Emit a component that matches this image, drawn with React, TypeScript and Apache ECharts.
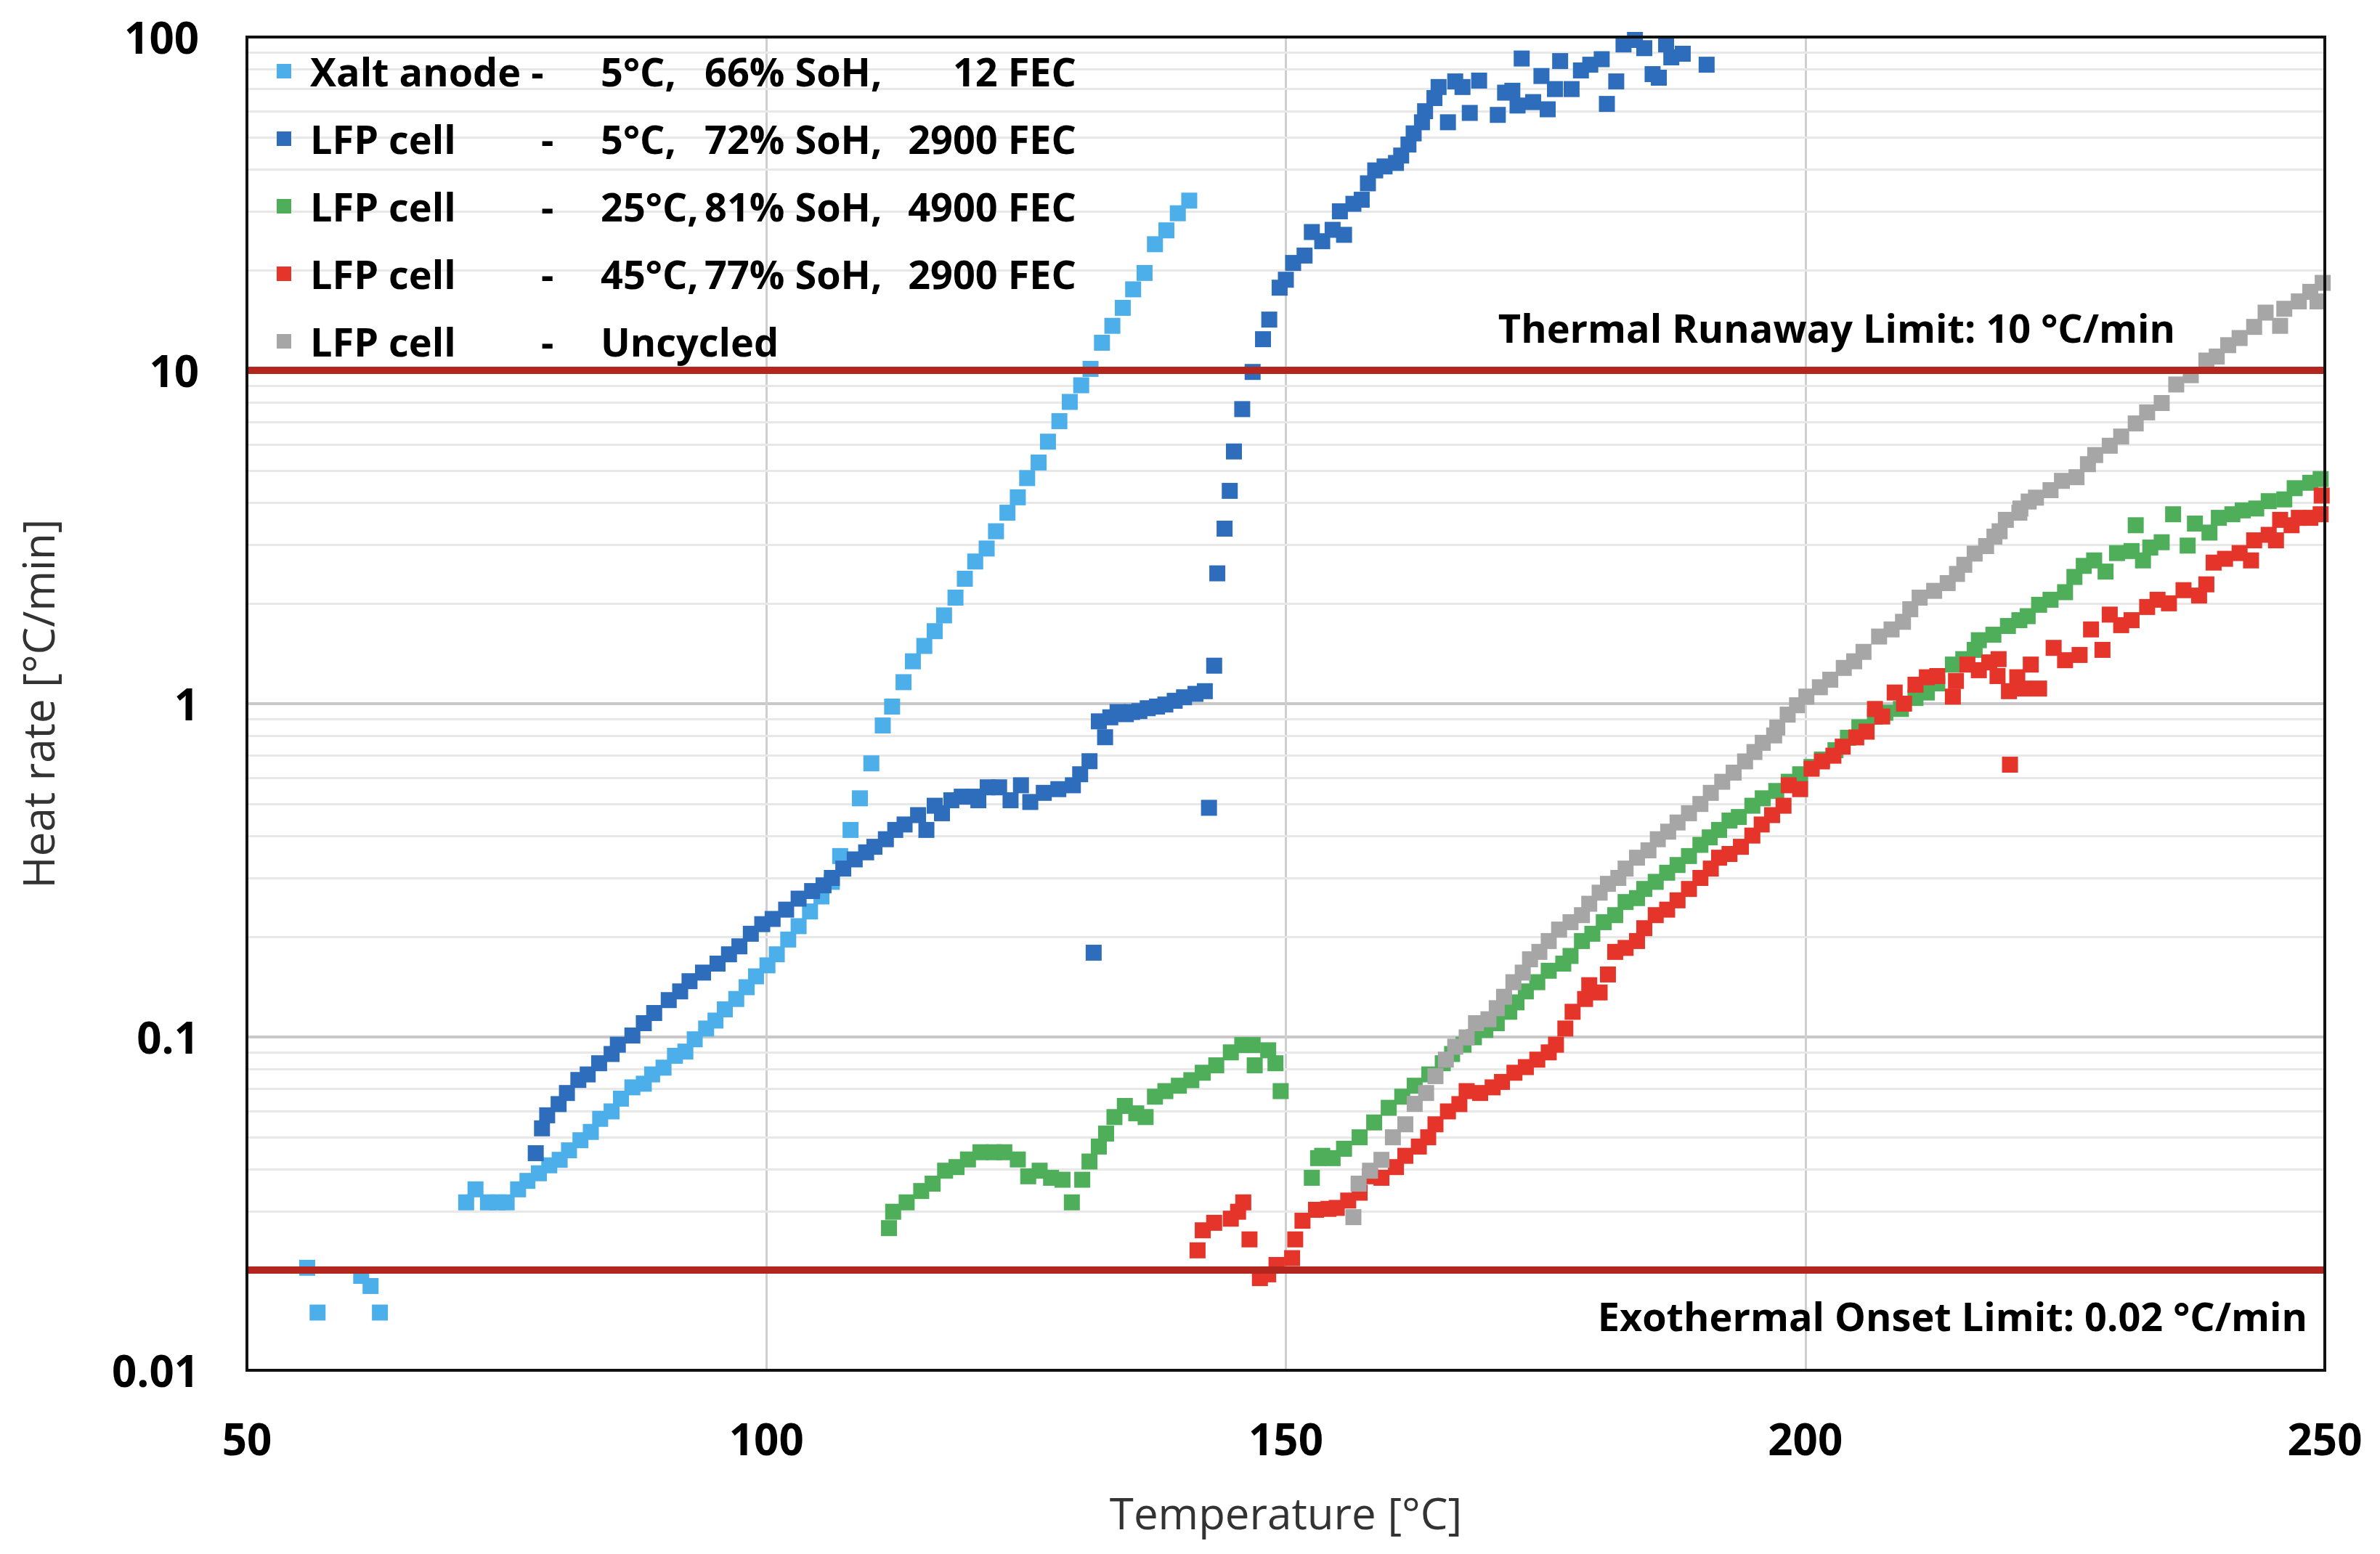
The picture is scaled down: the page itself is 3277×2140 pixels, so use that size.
import React, { useEffect, useRef } from "react";
import * as echarts from "echarts";

// ---------- data (temperature °C, heat rate °C/min) ----------
const xaltData: [number, number][] = [
  [55.8, 0.0203], [56.8, 0.0149], [61.0, 0.0192], [61.9, 0.0179], [62.8, 0.0149],
  [71.1, 0.0319], [72.0, 0.0349], [73.2, 0.0319], [74.1, 0.0319], [75.0, 0.0319], [76.1, 0.0349],
  [77.0, 0.037], [78.1, 0.039], [79.1, 0.0412], [80.1, 0.0428], [81.0, 0.0457], [82.1, 0.049],
  [83.1, 0.0519], [84.0, 0.0568], [85.1, 0.0598], [86.0, 0.0653], [87.1, 0.0706], [88.2, 0.0724],
  [89.0, 0.0772], [90.1, 0.0809], [91.2, 0.0878], [92.2, 0.0904], [93.1, 0.0984], [94.2, 0.106],
  [95.1, 0.112], [96.0, 0.121], [97.1, 0.13], [98.1, 0.141], [99.0, 0.152], [100.1, 0.164],
  [101.0, 0.177], [102.1, 0.196], [103.1, 0.215], [104.2, 0.238], [105.3, 0.264], [106.3, 0.292],
  [107.1, 0.349], [108.1, 0.418], [109.0, 0.52], [110.1, 0.662], [111.2, 0.86], [112.1, 0.98],
  [113.2, 1.16], [114.1, 1.34], [115.2, 1.49], [116.2, 1.65], [117.1, 1.84], [118.2, 2.08],
  [119.1, 2.37], [120.1, 2.67], [121.2, 2.92], [122.1, 3.29], [123.2, 3.74], [124.2, 4.16],
  [125.1, 4.75], [126.2, 5.29], [127.1, 6.11], [128.2, 7.04], [129.2, 8.04], [130.3, 9.02],
  [131.2, 10.1], [132.3, 12.1], [133.3, 13.6], [134.3, 15.4], [135.3, 17.5], [136.4, 19.6],
  [137.4, 23.9], [138.5, 26.3], [139.6, 29.6], [140.7, 32.3],
];

const lfp5Data: [number, number][] = [
  [77.8, 0.0448], [78.4, 0.0532], [78.9, 0.0582], [80.0, 0.0629], [80.8, 0.0679], [81.9, 0.0743],
  [82.8, 0.0772], [83.9, 0.0834], [85.1, 0.0889], [85.7, 0.0948], [87.1, 0.101], [88.2, 0.11],
  [89.2, 0.118], [90.6, 0.129], [91.7, 0.137], [92.6, 0.147], [93.9, 0.156], [95.3, 0.166],
  [96.4, 0.177], [97.4, 0.187], [98.5, 0.204], [99.6, 0.218], [100.6, 0.226], [101.9, 0.241],
  [103.1, 0.26], [104.4, 0.274], [105.5, 0.285], [106.3, 0.3], [107.4, 0.32], [108.5, 0.341],
  [109.6, 0.358], [110.4, 0.372], [111.5, 0.392], [112.4, 0.418], [113.3, 0.434], [114.6, 0.463],
  [115.4, 0.418], [116.2, 0.494], [116.9, 0.469], [117.8, 0.513], [118.8, 0.526], [119.9, 0.526],
  [120.4, 0.513], [121.3, 0.561], [122.4, 0.561], [123.5, 0.513], [124.5, 0.569], [125.4, 0.507],
  [126.7, 0.54], [128.1, 0.554], [129.5, 0.569], [130.2, 0.614], [131.1, 0.672], [131.5, 0.179],
  [132.0, 0.885], [132.6, 0.793], [133.1, 0.91], [133.8, 0.944], [134.6, 0.93], [135.2, 0.944],
  [135.9, 0.95], [136.7, 0.969], [137.6, 0.98], [138.4, 0.994], [139.3, 1.02], [140.2, 1.045],
  [141.3, 1.07], [142.2, 1.09], [142.6, 0.487], [143.1, 1.3], [143.4, 2.46], [144.1, 3.35],
  [144.6, 4.35], [145.0, 5.71], [145.8, 7.65], [146.8, 9.89], [147.8, 12.4], [148.4, 14.2],
  [149.4, 17.7], [150.0, 18.7], [150.7, 21.0], [151.8, 22.1], [152.5, 26.0], [153.5, 24.4],
  [154.5, 26.4], [155.2, 30.0], [155.6, 25.5], [156.5, 31.6], [157.3, 32.5], [157.9, 36.4],
  [158.6, 39.8], [159.5, 40.9], [160.6, 41.9], [161.1, 44.1], [161.8, 47.6], [162.3, 51.4],
  [163.1, 55.5], [163.4, 59.9], [164.3, 65.6], [164.7, 70.8], [165.6, 55.5], [166.3, 73.6],
  [167.0, 70.8], [167.7, 59.2], [168.6, 74.0], [170.4, 58.4], [171.1, 68.1], [171.8, 69.0],
  [172.3, 62.3], [172.7, 86.2], [173.8, 63.8], [174.6, 76.4], [175.2, 60.7], [175.9, 69.8],
  [176.4, 84.7], [177.5, 69.8], [178.4, 79.4], [179.3, 82.6], [180.4, 85.8], [180.9, 63.0],
  [181.8, 73.6], [182.5, 95.0], [183.6, 98.0], [184.5, 92.6], [185.3, 77.4], [185.9, 75.5],
  [186.6, 95.0], [187.1, 86.9], [188.2, 89.1], [190.5, 82.6],
];

const lfp25Data: [number, number][] = [
  [111.8, 0.0267], [112.2, 0.0299], [113.5, 0.0319], [114.9, 0.0345], [116.0, 0.0363], [117.2, 0.0397],
  [118.3, 0.0407], [119.4, 0.0429], [120.6, 0.0451], [121.9, 0.0451], [122.9, 0.0451], [124.2, 0.0429],
  [125.2, 0.0382], [126.3, 0.0397], [127.4, 0.0378], [128.5, 0.0373], [129.4, 0.0319], [130.4, 0.0373],
  [131.1, 0.0423], [132.0, 0.0469], [132.7, 0.0513], [133.5, 0.0575], [134.5, 0.0621], [135.6, 0.059],
  [136.5, 0.0575], [137.4, 0.0662], [138.4, 0.0688], [139.7, 0.0714], [140.9, 0.0742], [142.0, 0.0781],
  [143.3, 0.0822], [144.7, 0.0899], [145.8, 0.0946], [146.8, 0.0946], [147.0, 0.0822], [148.3, 0.0912],
  [149.0, 0.0834], [149.5, 0.0688],
  [152.5, 0.0378], [153.1, 0.0433], [153.5, 0.044], [154.5, 0.0433], [155.6, 0.0462], [157.1, 0.05],
  [158.5, 0.0554], [159.9, 0.0613], [161.2, 0.0662], [162.4, 0.0714], [163.8, 0.0772], [165.1, 0.0834],
  [166.0, 0.0889], [167.1, 0.0948], [168.1, 0.0998], [169.2, 0.105], [170.3, 0.11], [171.5, 0.119],
  [172.2, 0.127], [173.1, 0.137], [174.2, 0.146], [175.3, 0.158], [176.7, 0.166], [177.4, 0.175],
  [178.5, 0.194], [179.5, 0.204], [180.6, 0.221], [181.7, 0.232], [182.7, 0.254], [183.8, 0.261],
  [184.5, 0.278], [185.6, 0.292], [186.7, 0.311], [187.7, 0.328], [188.8, 0.349], [189.9, 0.377],
  [190.8, 0.397], [191.7, 0.418], [192.7, 0.446], [193.6, 0.457], [194.9, 0.494], [195.9, 0.52],
  [197.2, 0.547], [198.4, 0.583], [199.5, 0.614], [200.6, 0.646], [201.6, 0.68], [202.9, 0.725],
  [204.1, 0.79], [205.2, 0.85], [206.7, 0.914], [207.7, 0.939], [209.2, 0.964], [210.6, 1.04],
  [211.7, 1.08], [212.7, 1.15], [214.2, 1.31], [215.2, 1.36], [216.3, 1.45], [216.7, 1.55],
  [218.1, 1.61], [219.5, 1.71], [220.6, 1.78], [221.4, 1.83], [222.5, 1.98], [223.6, 2.05],
  [225.0, 2.16], [225.9, 2.4], [226.8, 2.59], [227.8, 2.69], [228.9, 2.49], [230.0, 2.83],
  [231.4, 2.87], [231.8, 3.43], [232.5, 2.69], [233.2, 2.94], [234.3, 3.05], [235.4, 3.7],
  [236.8, 2.98], [237.5, 3.47], [238.9, 3.26], [239.8, 3.61], [241.1, 3.7], [242.1, 3.8],
  [243.4, 3.85], [244.6, 4.05], [246.1, 4.1], [247.1, 4.43], [248.6, 4.6], [249.6, 4.72],
];

const lfp45Data: [number, number][] = [
  [141.5, 0.0229], [142.0, 0.0263], [143.1, 0.0277], [144.7, 0.0285], [145.4, 0.0299], [145.9, 0.0319],
  [146.5, 0.0247], [147.5, 0.0189], [148.3, 0.0194], [149.1, 0.0207], [150.6, 0.0217], [150.9, 0.0247],
  [151.6, 0.0281], [152.9, 0.0303], [154.1, 0.0305], [154.9, 0.0307], [156.0, 0.0323], [157.1, 0.0341],
  [158.1, 0.0382], [159.2, 0.0378], [160.6, 0.0407], [161.5, 0.044], [162.8, 0.0469], [163.7, 0.05],
  [164.4, 0.0547], [165.6, 0.0598], [166.7, 0.0629], [167.4, 0.0688], [168.7, 0.0679], [169.9, 0.0706],
  [170.8, 0.0733], [172.0, 0.0781], [173.1, 0.0812], [174.2, 0.0855], [175.3, 0.0899], [176.0, 0.0948],
  [176.9, 0.106], [177.6, 0.119], [178.8, 0.13], [179.2, 0.143], [180.2, 0.136], [181.0, 0.154],
  [181.7, 0.18], [182.7, 0.185], [183.8, 0.194], [184.5, 0.212], [185.6, 0.232], [186.7, 0.241],
  [187.7, 0.257], [188.8, 0.278], [189.9, 0.3], [190.9, 0.32], [191.7, 0.345], [192.7, 0.354],
  [193.8, 0.372], [194.9, 0.402], [195.8, 0.434], [196.8, 0.463], [197.9, 0.494], [198.4, 0.569],
  [199.5, 0.554], [200.6, 0.638], [201.6, 0.671], [202.7, 0.698], [203.6, 0.743], [204.9, 0.792],
  [205.9, 0.824], [206.7, 0.964], [207.4, 0.915], [208.6, 1.08], [209.5, 1.0], [210.6, 1.14],
  [211.7, 1.2], [212.7, 1.21], [214.2, 1.05], [214.5, 1.17], [215.6, 1.31], [216.7, 1.26],
  [217.7, 1.33], [218.6, 1.36], [218.5, 1.21], [219.6, 1.09], [219.7, 0.656], [220.4, 1.2],
  [221.0, 1.11], [221.7, 1.31], [222.5, 1.11], [223.9, 1.47], [225.0, 1.35], [226.4, 1.4],
  [227.5, 1.67], [228.6, 1.45], [229.3, 1.85], [230.4, 1.72], [231.4, 1.78], [232.9, 1.95],
  [233.9, 2.05], [235.0, 2.0], [236.4, 2.19], [237.9, 2.11], [238.6, 2.28], [239.3, 2.65],
  [240.4, 2.72], [241.8, 2.83], [242.9, 2.69], [243.2, 3.09], [244.6, 3.21], [245.3, 3.09],
  [245.7, 3.56], [246.8, 3.43], [247.5, 3.61], [248.6, 3.61], [249.6, 3.7], [249.7, 4.21],
];

const uncycledData: [number, number][] = [
  [156.5, 0.0288], [157.0, 0.0363], [158.1, 0.0397], [159.2, 0.0428], [160.3, 0.05], [161.5, 0.0547],
  [162.4, 0.063], [163.5, 0.0679], [164.4, 0.0763], [165.4, 0.0855], [166.3, 0.0935], [167.4, 0.0997],
  [168.3, 0.11], [169.5, 0.113], [170.3, 0.122], [171.0, 0.132], [171.9, 0.146], [172.8, 0.156],
  [173.5, 0.171], [174.4, 0.18], [175.3, 0.194], [176.3, 0.21], [177.4, 0.221], [178.5, 0.232],
  [179.2, 0.251], [180.2, 0.271], [181.0, 0.288], [182.0, 0.3], [182.7, 0.32], [183.8, 0.345],
  [184.9, 0.363], [185.8, 0.392], [186.8, 0.413], [187.7, 0.44], [188.8, 0.469], [189.9, 0.5],
  [190.9, 0.54], [192.0, 0.583], [193.1, 0.621], [194.2, 0.671], [195.1, 0.716], [195.9, 0.763],
  [197.0, 0.803], [197.3, 0.848], [198.3, 0.927], [199.2, 0.989], [200.1, 1.05], [201.4, 1.12],
  [202.4, 1.18], [203.7, 1.28], [204.7, 1.34], [205.6, 1.43], [207.1, 1.59], [208.3, 1.67],
  [209.4, 1.76], [210.1, 1.92], [211.0, 2.08], [212.4, 2.18], [213.7, 2.3], [214.6, 2.45],
  [215.3, 2.61], [216.3, 2.82], [217.4, 2.97], [218.2, 3.17], [218.7, 3.29], [219.3, 3.56],
  [220.6, 3.74], [220.7, 3.85], [221.5, 4.04], [222.2, 4.15], [223.6, 4.37], [224.7, 4.66],
  [226.1, 4.78], [227.2, 5.23], [227.9, 5.57], [229.3, 5.94], [230.4, 6.33], [231.8, 6.93],
  [232.9, 7.48], [234.3, 7.98], [235.7, 9.07], [237.1, 9.67], [238.6, 10.7], [239.6, 11.0],
  [240.7, 11.9], [241.8, 12.5], [243.2, 13.5], [244.3, 14.9], [245.7, 13.6], [246.1, 15.3],
  [247.5, 16.1], [248.6, 17.2], [249.3, 16.1], [249.8, 18.3],
];

const seriesNames = ["xalt", "lfp5", "lfp25", "lfp45", "uncycled"];
const seriesColors = ["#4DAFEA", "#2E6DBB", "#4EAE5A", "#E5342A", "#A6A6A6"];
const seriesData = [xaltData, lfp5Data, lfp25Data, lfp45Data, uncycledData];

// legend text columns: label, dash, temperature, SoH, FEC
const legendLabel = ["Xalt anode -", "LFP cell", "LFP cell", "LFP cell", "LFP cell"];
const legendDash = [" ", "-", "-", "-", "-"];
const legendTemp = ["5°C,", "5°C,", "25°C,", "45°C,", "Uncycled"];
const legendSoH = ["66% SoH,", "72% SoH,", "81% SoH,", "77% SoH,", " "];
const legendFEC = ["12 FEC", "2900 FEC", "4900 FEC", "2900 FEC", " "];

const limitValues = [10, 0.02];
const limitTexts = ["Thermal Runaway Limit: 10 °C/min", "Exothermal Onset Limit: 0.02 °C/min"];

const xMin = 50;
const xMax = 250;
const xInterval = 50;
const yMin = 0.01;
const yMax = 100;
const decades = [0.01, 0.1, 1, 10];
const minorSteps = [2, 3, 4, 5, 6, 7, 8, 9];

const FONT = "'Open Sans', 'Noto Sans', 'DejaVu Sans', sans-serif";

// layout (pixels)
const W = 3277;
const H = 2140;
const G_LEFT = 340;
const G_RIGHT = 76;
const G_TOP = 51;
const G_BOTTOM = 253;

export default function App() {
  const ref = useRef<HTMLDivElement>(null);

  useEffect(() => {
    document.body.style.margin = "0";
    document.body.style.overflow = "hidden";
    if (!ref.current) return;
    const chart = echarts.init(ref.current, null, { renderer: "svg" });

    const minorValues: number[] = [];
    decades.forEach((d) => minorSteps.forEach((k) => minorValues.push(+(k * d).toPrecision(3))));

    const legendMap: Record<string, string> = {};
    seriesNames.forEach((n, i) => {
      legendMap[n] =
        `{n|${legendLabel[i]}}{d|${legendDash[i]}}{t|${legendTemp[i]}}{s|${legendSoH[i]}}{f|${legendFEC[i]}}`;
    });

    const scatterSeries = seriesNames.map((n, i) => ({
      name: n,
      type: "scatter",
      data: seriesData[i],
      symbol: "rect",
      symbolSize: 22,
      itemStyle: { color: seriesColors[i], opacity: 1 },
      z: 3 + i,
      silent: true,
    }));

    const richBase = { fontFamily: FONT, fontSize: 54, fontWeight: "bold", color: "#000", lineHeight: 60 };

    const option: any = {
      animation: false,
      backgroundColor: "#ffffff",
      grid: {
        left: G_LEFT,
        right: G_RIGHT,
        top: G_TOP,
        bottom: G_BOTTOM,
        show: false,
      },
      xAxis: {
        type: "value",
        min: xMin,
        max: xMax,
        interval: xInterval,
        name: "Temperature [°C]",
        nameLocation: "middle",
        nameGap: 166,
        nameTextStyle: { fontFamily: FONT, fontSize: 60, color: "#333333" },
        axisLine: { show: false },
        axisTick: { show: false },
        axisLabel: {
          fontFamily: FONT,
          fontSize: 60,
          fontWeight: "bold",
          color: "#000000",
          margin: 64,
        },
        splitLine: { show: true, lineStyle: { color: "#cfcfcf", width: 3 } },
      },
      yAxis: {
        type: "log",
        logBase: 10,
        min: yMin,
        max: yMax,
        name: "Heat rate [°C/min]",
        nameLocation: "middle",
        nameGap: 258,
        nameRotate: 90,
        nameTextStyle: { fontFamily: FONT, fontSize: 60, color: "#333333" },
        axisLine: { show: false },
        axisTick: { show: false },
        axisLabel: {
          fontFamily: FONT,
          fontSize: 60,
          fontWeight: "bold",
          color: "#000000",
          margin: 66,
        },
        splitLine: { show: true, lineStyle: { color: "#c8c8c8", width: 4 } },
      },
      legend: {
        data: seriesNames,
        orient: "vertical",
        left: 381,
        top: 68,
        padding: 0,
        itemWidth: 20,
        itemHeight: 20,
        itemGap: 33,
        icon: "rect",
        selectedMode: false,
        z: 30,
        formatter: (name: string) => legendMap[name],
        textStyle: {
          ...richBase,
          rich: {
            n: { ...richBase, width: 318, padding: [0, 0, 0, 21] },
            d: { ...richBase, width: 82 },
            t: { ...richBase, width: 143 },
            s: { ...richBase, width: 272 },
            f: { ...richBase, width: 240, align: "right" },
          },
        },
      },
      graphic: [
        {
          type: "rect",
          z: 100,
          silent: true,
          shape: { x: G_LEFT, y: G_TOP, width: W - G_LEFT - G_RIGHT, height: H - G_TOP - G_BOTTOM },
          style: { fill: "none", stroke: "#111111", lineWidth: 4 },
        },
        {
          type: "text",
          right: W - 2995,
          top: 452 - 28,
          z: 50,
          style: { text: limitTexts[0], font: `bold 54px ${FONT}`, fill: "#000000" },
        },
        {
          type: "text",
          right: W - 3177,
          top: 1815 - 30,
          z: 50,
          style: { text: limitTexts[1], font: `bold 54px ${FONT}`, fill: "#000000" },
        },
      ],
      series: [
        {
          name: "minorGrid",
          type: "scatter",
          data: [],
          z: 1,
          silent: true,
          markLine: {
            z: 1,
            silent: true,
            animation: false,
            symbol: ["none", "none"],
            label: { show: false },
            lineStyle: { color: "#e8e8e8", width: 3, type: "solid" },
            data: minorValues.map((v) => ({ yAxis: v })),
          },
        },
        ...scatterSeries,
        {
          name: "limits",
          type: "scatter",
          data: [],
          z: 20,
          silent: true,
          markLine: {
            z: 20,
            silent: true,
            animation: false,
            symbol: ["none", "none"],
            label: { show: false },
            lineStyle: { color: "#B3261E", width: 10, type: "solid" },
            data: limitValues.map((v) => ({ yAxis: v })),
          },
        },
      ],
    };

    chart.setOption(option);
    return () => chart.dispose();
  }, []);

  return <div ref={ref} style={{ width: W, height: H }} />;
}
